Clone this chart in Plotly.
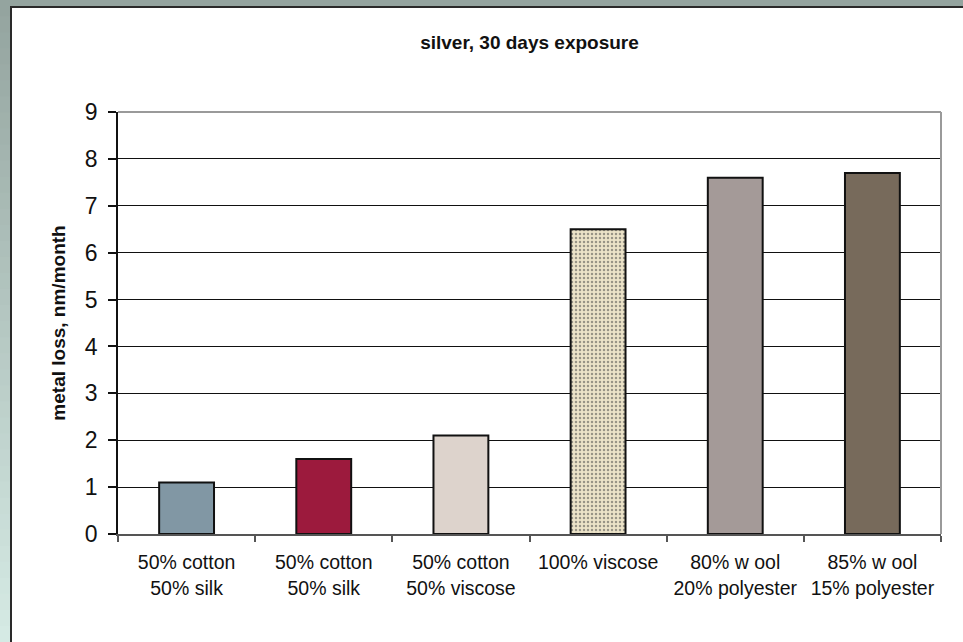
import plotly.graph_objects as go

# ---- data ----
categories = [
    "50% cotton<br>50% silk",
    "50% cotton<br>50% silk",
    "50% cotton<br>50% viscose",
    "100% viscose",
    "80% w ool<br>20% polyester",
    "85% w ool<br>15% polyester",
]
metal_loss = [1.1, 1.6, 2.1, 6.5, 7.6, 7.7]
y_ticks = [0, 1, 2, 3, 4, 5, 6, 7, 8, 9]
title_text = "silver, 30 days exposure"
y_title = "metal loss, nm/month"

# ---- styles ----
bar_colors = ["#8197a4", "#9c1a3d", "#ddd3cc", "#ece3c8", "#a49a98", "#776a5b"]
pattern_shapes = ["", "", "", ".", "", ""]
pattern_fg = ["#8197a4", "#9c1a3d", "#ddd3cc", "#d6c9a4", "#a49a98", "#776a5b"]

W, H = 963, 642
L, R, T, B = 118, 22, 112, 108
PW, PH = W - L - R, H - T - B
FONT = "Liberation Sans, Arial, sans-serif"


def px_x(px):
    return (px - L) / PW


def px_y(py):
    return (H - B - py) / PH


xs = list(range(len(categories)))

fig = go.Figure(
    go.Bar(
        x=xs,
        y=metal_loss,
        width=0.4,
        marker=dict(
            color=bar_colors,
            line=dict(color="#111111", width=2),
            pattern=dict(shape=pattern_shapes, fgcolor=pattern_fg,
                         bgcolor=bar_colors, size=4, solidity=0.3),
        ),
        hoverinfo="x+y",
    )
)

shapes = []
# left gradient strip
top_c = (0x94, 0xa4, 0x9f)
bot_c = (0xd5, 0xea, 0xe4)
n = 40
for i in range(n):
    t = i / (n - 1)
    c = tuple(round(top_c[k] + (bot_c[k] - top_c[k]) * t) for k in range(3))
    y0 = H * i / n
    y1 = H * (i + 1) / n + 1
    shapes.append(dict(type="rect", xref="paper", yref="paper",
                       x0=px_x(-2), x1=px_x(10), y0=px_y(y1), y1=px_y(y0),
                       fillcolor="rgb(%d,%d,%d)" % c, line=dict(width=0), layer="below"))
# top strip
shapes.append(dict(type="rect", xref="paper", yref="paper",
                   x0=px_x(-2), x1=px_x(W + 5), y0=px_y(6), y1=px_y(-2),
                   fillcolor="#94a49f", line=dict(width=0), layer="below"))
# white panel
shapes.append(dict(type="rect", xref="paper", yref="paper",
                   x0=px_x(11), x1=px_x(W + 10), y0=px_y(H + 10), y1=px_y(7),
                   fillcolor="white", line=dict(color="#2a2a2a", width=2), layer="below"))
# plot-area top and right border (grey)
shapes.append(dict(type="line", xref="paper", yref="paper", x0=0, x1=1, y0=1, y1=1,
                   line=dict(color="#9a9a9a", width=2), layer="above"))
shapes.append(dict(type="line", xref="paper", yref="paper", x0=1, x1=1, y0=0, y1=1,
                   line=dict(color="#9a9a9a", width=2), layer="above"))

fig.update_layout(
    width=W, height=H, autosize=False,
    margin=dict(l=L, r=R, t=T, b=B, pad=0),
    paper_bgcolor="#94a49f",
    plot_bgcolor="rgba(0,0,0,0)",
    showlegend=False,
    shapes=shapes,
    font=dict(family=FONT, color="#111111"),
    title=dict(text="<b>" + title_text + "</b>", x=0.5, xref="paper", xanchor="center",
               y=1 - 42 / H, yref="container", yanchor="middle",
               font=dict(size=19, family=FONT, color="#111111")),
)

fig.update_xaxes(
    range=[-0.5, len(categories) - 0.5],
    tickmode="array", tickvals=xs, ticktext=categories,
    ticks="", ticklabelstandoff=10,
    tickfont=dict(size=19.5, family=FONT, color="#111111"),
    showgrid=False, zeroline=False,
    showline=True, linecolor="#555555", linewidth=2,
    minor=dict(tick0=-0.5, dtick=1, ticks="outside", ticklen=6,
               tickcolor="#555555", tickwidth=1.5, showgrid=False),
    fixedrange=True,
)

fig.update_yaxes(
    range=[0, 9], tickmode="array", tickvals=y_ticks,
    ticks="outside", ticklen=8, tickcolor="#111111", tickwidth=1.5,
    ticklabelstandoff=6,
    tickfont=dict(size=23, family=FONT, color="#111111"),
    showgrid=True, gridcolor="#111111", gridwidth=1.2,
    zeroline=False,
    showline=True, linecolor="#111111", linewidth=1.5,
    title=dict(text="<b>" + y_title + "</b>", standoff=14,
               font=dict(size=19, family=FONT, color="#111111")),
    fixedrange=True,
)

fig.write_html("out.html", config={"displayModeBar": False},
               post_script="document.body.style.margin='0px';")
